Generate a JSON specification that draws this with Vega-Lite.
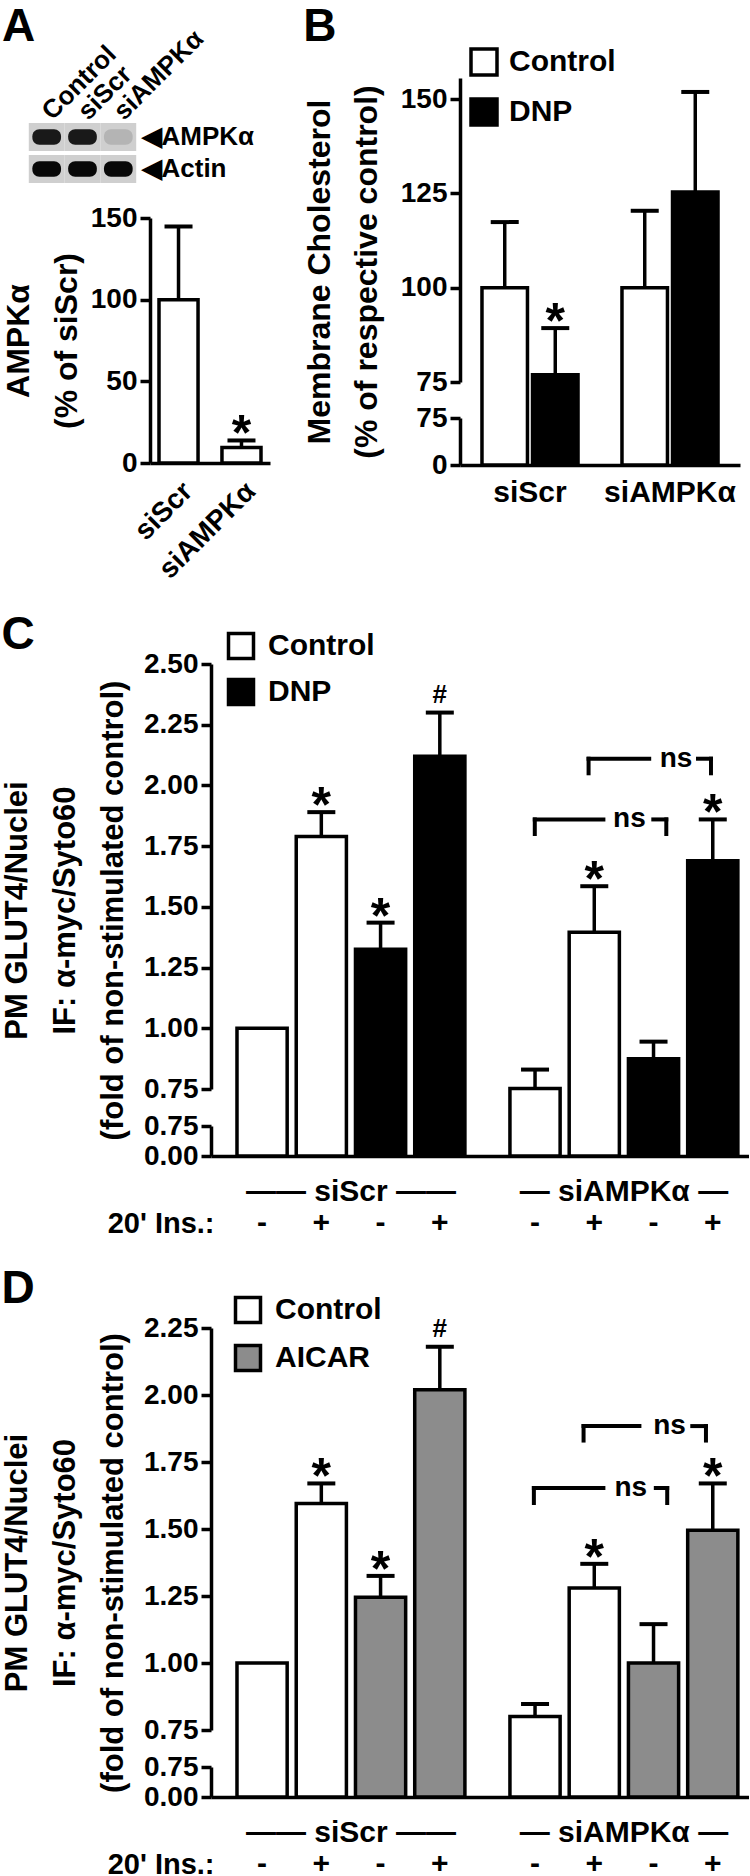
{
"$schema": "https://vega.github.io/schema/vega-lite/v6.json",
"background": "white",
"padding": {"top": 3, "left": 0, "right": 0, "bottom": 0},
"config": {
 "font": "Liberation Sans",
 "view": {"stroke": null},
 "axis": {"labelFont": "Liberation Sans", "labelFontWeight": "bold", "labelFontSize": 28, "labelColor": "black", "titleFont": "Liberation Sans", "titleFontWeight": "bold", "titleFontSize": 31, "titleColor": "black", "domainColor": "black", "domainWidth": 3.5, "tickColor": "black", "tickWidth": 3.5, "tickSize": 10, "grid": false, "labelOverlap": false, "labelFlush": false, "labelBound": false, "labelPadding": 3, "labelLimit": 0},
 "title": {"font": "Liberation Sans", "fontSize": 46, "fontWeight": "bold", "color": "black", "anchor": "start", "frame": "bounds"},
 "legend": {"labelFont": "Liberation Sans", "labelFontWeight": "bold", "labelFontSize": 29, "labelColor": "black"},
 "text": {"font": "Liberation Sans", "fontWeight": "bold", "color": "black"}
},
"datasets": {
 "c": [
  {"group": "siScr", "treatment": "Control", "insulin": "-", "condition": "Control, -", "mean": 1.0, "upper": null, "sig": ""},
  {"group": "siScr", "treatment": "Control", "insulin": "+", "condition": "Control, +", "mean": 1.79, "upper": 1.89, "sig": "*"},
  {"group": "siScr", "treatment": "DNP", "insulin": "-", "condition": "DNP, -", "mean": 1.325, "upper": 1.435, "sig": "*"},
  {"group": "siScr", "treatment": "DNP", "insulin": "+", "condition": "DNP, +", "mean": 2.12, "upper": 2.3, "sig": "#"},
  {"group": "siAMPKα", "treatment": "Control", "insulin": "-", "condition": "Control, -", "mean": 0.752, "upper": 0.83, "sig": ""},
  {"group": "siAMPKα", "treatment": "Control", "insulin": "+", "condition": "Control, +", "mean": 1.395, "upper": 1.585, "sig": "*"},
  {"group": "siAMPKα", "treatment": "DNP", "insulin": "-", "condition": "DNP, -", "mean": 0.875, "upper": 0.945, "sig": ""},
  {"group": "siAMPKα", "treatment": "DNP", "insulin": "+", "condition": "DNP, +", "mean": 1.69, "upper": 1.86, "sig": "*"}
 ],
 "d": [
  {"group": "siScr", "treatment": "Control", "insulin": "-", "condition": "Control, -", "mean": 1.0, "upper": null, "sig": ""},
  {"group": "siScr", "treatment": "Control", "insulin": "+", "condition": "Control, +", "mean": 1.595, "upper": 1.67, "sig": "*"},
  {"group": "siScr", "treatment": "AICAR", "insulin": "-", "condition": "AICAR, -", "mean": 1.245, "upper": 1.325, "sig": "*"},
  {"group": "siScr", "treatment": "AICAR", "insulin": "+", "condition": "AICAR, +", "mean": 2.02, "upper": 2.18, "sig": "#"},
  {"group": "siAMPKα", "treatment": "Control", "insulin": "-", "condition": "Control, -", "mean": 0.8, "upper": 0.847, "sig": ""},
  {"group": "siAMPKα", "treatment": "Control", "insulin": "+", "condition": "Control, +", "mean": 1.28, "upper": 1.37, "sig": "*"},
  {"group": "siAMPKα", "treatment": "AICAR", "insulin": "-", "condition": "AICAR, -", "mean": 1.0, "upper": 1.145, "sig": ""},
  {"group": "siAMPKα", "treatment": "AICAR", "insulin": "+", "condition": "AICAR, +", "mean": 1.495, "upper": 1.67, "sig": "*"}
 ],
 "cBr": [
  {"group": "siAMPKα", "pair": "lower", "level": 1.86, "tip": 1.8, "label": "ns"},
  {"group": "siAMPKα", "pair": "upper", "level": 2.11, "tip": 2.05, "label": "ns"}
 ],
 "dBr": [
  {"group": "siAMPKα", "pair": "lower", "level": 1.653, "tip": 1.597, "label": "ns"},
  {"group": "siAMPKα", "pair": "upper", "level": 1.884, "tip": 1.83, "label": "ns"}
 ]
},
"columns": 2,
"align": "none",
"spacing": {"row": 28, "column": 0},
"resolve": {"scale": {"x": "independent", "y": "independent", "xOffset": "independent", "fill": "independent"}, "legend": {"fill": "independent"}},
"concat": [
 {"width": 1, "height": 1, "data": {"values": []}, "mark": "point"},
 {"columns": 2, "align": "none", "spacing": {"row": 0, "column": 33},
  "resolve": {"scale": {"x": "independent", "y": "independent", "xOffset": "independent", "fill": "independent"}, "legend": {"fill": "independent"}},
  "concat": [
  {"width": 1, "height": 1, "data": {"values": []}, "mark": "point"},
  {"width": 1, "height": 1, "data": {"values": []}, "mark": "point"},
  {"columns": 2, "align": "none", "spacing": {"row": 21, "column": 0},
   "resolve": {"scale": {"x": "independent", "y": "independent", "fill": "independent"}, "legend": {"fill": "independent"}},
   "concat": [
   {"width": 1, "height": 1, "data": {"values": []}, "mark": "point"},
   {
    "title": {"text": "A", "dx": -25, "offset": -26},
    "width": 111, "height": 60,
    "data": {"values": [
     {"lane": "Control", "protein": "AMPKα", "intensity": 0.92},
     {"lane": "siScr", "protein": "AMPKα", "intensity": 0.92},
     {"lane": "siAMPKα", "protein": "AMPKα", "intensity": 0.12},
     {"lane": "Control", "protein": "Actin", "intensity": 1},
     {"lane": "siScr", "protein": "Actin", "intensity": 1},
     {"lane": "siAMPKα", "protein": "Actin", "intensity": 1}
    ]},
    "encoding": {
     "x": {"field": "lane", "type": "nominal", "sort": ["Control", "siScr", "siAMPKα"], "scale": {"paddingInner": 0, "paddingOuter": 0.05}, "axis": {"orient": "top", "title": null, "labelAngle": -45, "labelAlign": "left", "labelBaseline": "middle", "domain": false, "ticks": false, "labelPadding": 8, "labelFontSize": 26}},
     "y": {"field": "protein", "type": "nominal", "sort": ["AMPKα", "Actin"], "scale": {"paddingInner": 0.12, "paddingOuter": 0}, "axis": {"orient": "right", "title": null, "domain": false, "ticks": false, "labelPadding": 3, "labelFontSize": 26, "labelExpr": "'◀' + datum.label"}}
    },
    "layer": [
     {"mark": {"type": "rect", "fill": "#cfcfcf"}},
     {"mark": {"type": "rect", "width": {"band": 0.8}, "height": {"band": 0.55}, "cornerRadius": 7},
      "encoding": {"fill": {"field": "intensity", "type": "quantitative", "scale": {"domain": [0, 1], "range": ["#cfcfcf", "#080808"]}, "legend": null}}}
    ]
   },
   {"width": 1, "height": 1, "data": {"values": []}, "mark": "point"},
   {
    "width": 120, "height": 245,
    "data": {"values": [
     {"group": "siScr", "mean": 100, "upper": 144.8, "sig": ""},
     {"group": "siAMPKα", "mean": 9.5, "upper": 13.8, "sig": "*"}
    ]},
    "encoding": {
     "x": {"field": "group", "type": "nominal", "sort": ["siScr", "siAMPKα"], "scale": {"paddingInner": 0.38, "paddingOuter": 0.143}, "axis": {"title": null, "labelAngle": -45, "labelAlign": "right", "labelBaseline": "top", "ticks": false, "labelPadding": 14, "labelFontSize": 28}}
    },
    "layer": [
     {"mark": {"type": "bar", "fill": "white", "stroke": "black", "strokeWidth": 3.5},
      "encoding": {
       "y": {"field": "mean", "type": "quantitative", "scale": {"domain": [0, 150], "nice": false}, "axis": {"values": [0, 50, 100, 150], "title": ["AMPKα", "(% of siScr)"], "titleFontSize": 32, "titleLineHeight": 48, "titlePadding": 7}}
      }},
     {"mark": {"type": "rule", "strokeWidth": 3.5, "color": "black"},
      "encoding": {
       "y": {"field": "mean", "type": "quantitative", "scale": {"domain": [0, 150], "nice": false}, "axis": {"values": [0, 50, 100, 150], "title": ["AMPKα", "(% of siScr)"], "titleFontSize": 32, "titleLineHeight": 48, "titlePadding": 7}},
       "y2": {"field": "upper"}
      }},
     {"mark": {"type": "tick", "orient": "horizontal", "size": 28, "thickness": 4, "color": "black", "opacity": 1},
      "encoding": {
       "y": {"field": "upper", "type": "quantitative", "scale": {"domain": [0, 150], "nice": false}, "axis": {"values": [0, 50, 100, 150], "title": ["AMPKα", "(% of siScr)"], "titleFontSize": 32, "titleLineHeight": 48, "titlePadding": 7}}
      }},
     {"transform": [{"filter": "datum.sig == '*'"}],
      "mark": {"type": "text", "fontSize": 50, "baseline": "alphabetic", "dy": 10},
      "encoding": {
       "y": {"field": "upper", "type": "quantitative", "scale": {"domain": [0, 150], "nice": false}, "axis": {"values": [0, 50, 100, 150], "title": ["AMPKα", "(% of siScr)"], "titleFontSize": 32, "titleLineHeight": 48, "titlePadding": 7}},
       "text": {"field": "sig"}
      }}
    ]
   }
  ]},
  {
   "title": {"text": "B", "offset": -4},
   "width": 280, "height": 387,
   "data": {"values": [
    {"group": "siScr", "treatment": "Control", "mean": 100, "upper": 117.4, "sig": ""},
    {"group": "siScr", "treatment": "DNP", "mean": 76.9, "upper": 89.3, "sig": "*"},
    {"group": "siAMPKα", "treatment": "Control", "mean": 100, "upper": 120.4, "sig": ""},
    {"group": "siAMPKα", "treatment": "DNP", "mean": 125.4, "upper": 151.9, "sig": ""}
   ]},
   "encoding": {
    "x": {"field": "group", "type": "nominal", "sort": ["siScr", "siAMPKα"], "scale": {"paddingInner": 0.314, "paddingOuter": 0.157}, "axis": {"title": null, "labelAngle": 0, "ticks": false, "labelPadding": 12, "labelFontSize": 30}},
    "xOffset": {"field": "treatment", "type": "nominal", "sort": ["Control", "DNP"], "scale": {"paddingInner": 0.1, "paddingOuter": 0}}
   },
   "layer": [
    {"mark": {"type": "bar", "stroke": "black", "strokeWidth": 3.5},
     "encoding": {
      "y": {"field": "mean", "type": "quantitative", "scale": {"domain": [0, 75, 75.01, 155.6], "range": [387, 340, 304, 0], "nice": false, "zero": false}, "axis": {"values": [0, 75, 75.01, 100, 125, 150], "labelExpr": "format(datum.value, '.0f')", "domainDash": [47, 36, 1000], "title": ["Membrane Cholesterol", "(% of respective control)"], "titleFontSize": 32, "titleLineHeight": 47, "titlePadding": 17}},
      "fill": {"field": "treatment", "type": "nominal", "scale": {"domain": ["Control", "DNP"], "range": ["white", "black"]}, "legend": {"orient": "none", "legendX": 9, "legendY": -31, "title": null, "symbolType": "square", "symbolSize": 676, "symbolStrokeColor": "black", "symbolStrokeWidth": 3.5, "labelFontSize": 30, "rowPadding": 10, "labelOffset": 10, "padding": 0}}
     }},
    {"mark": {"type": "rule", "strokeWidth": 3.5, "color": "black"},
     "encoding": {
      "y": {"field": "mean", "type": "quantitative", "scale": {"domain": [0, 75, 75.01, 155.6], "range": [387, 340, 304, 0], "nice": false, "zero": false}, "axis": {"values": [0, 75, 75.01, 100, 125, 150], "labelExpr": "format(datum.value, '.0f')", "domainDash": [47, 36, 1000], "title": ["Membrane Cholesterol", "(% of respective control)"], "titleFontSize": 32, "titleLineHeight": 47, "titlePadding": 17}},
      "y2": {"field": "upper"}
     }},
    {"mark": {"type": "tick", "orient": "horizontal", "size": 28, "thickness": 4, "color": "black", "opacity": 1},
     "encoding": {
      "y": {"field": "upper", "type": "quantitative", "scale": {"domain": [0, 75, 75.01, 155.6], "range": [387, 340, 304, 0], "nice": false, "zero": false}, "axis": {"values": [0, 75, 75.01, 100, 125, 150], "labelExpr": "format(datum.value, '.0f')", "domainDash": [47, 36, 1000], "title": ["Membrane Cholesterol", "(% of respective control)"], "titleFontSize": 32, "titleLineHeight": 47, "titlePadding": 17}}
     }},
    {"transform": [{"filter": "datum.sig == '*'"}],
     "mark": {"type": "text", "fontSize": 50, "baseline": "alphabetic", "dy": 10},
     "encoding": {
      "y": {"field": "upper", "type": "quantitative", "scale": {"domain": [0, 75, 75.01, 155.6], "range": [387, 340, 304, 0], "nice": false, "zero": false}, "axis": {"values": [0, 75, 75.01, 100, 125, 150], "labelExpr": "format(datum.value, '.0f')", "domainDash": [47, 36, 1000], "title": ["Membrane Cholesterol", "(% of respective control)"], "titleFontSize": 32, "titleLineHeight": 47, "titlePadding": 17}},
      "text": {"field": "sig"}
     }}
   ]
  }
 ]},
 {"width": 1, "height": 1, "data": {"values": []}, "mark": "point"},
 {
  "title": {"text": "C", "offset": -28},
  "width": 538, "height": 492,
  "layer": [
   {"data": {"name": "c"},
    "mark": {"type": "bar", "stroke": "black", "strokeWidth": 3.5},
    "encoding": {
     "x": {"field": "group", "type": "nominal", "sort": ["siScr", "siAMPKα"], "scale": {"paddingInner": 0.165, "paddingOuter": 0.068, "align": 0.7}, "axis": {"title": "20' Ins.:", "titleX": 3, "titleY": 67, "titleAlign": "right", "titleBaseline": "middle", "titleAngle": 0, "titleFontSize": 29, "labelAngle": 0, "ticks": false, "labelPadding": 20, "labelFontSize": 30, "labelExpr": "datum.value == 'siScr' ? '—— siScr ——' : '— siAMPKα —'"}},
     "xOffset": {"field": "condition", "type": "nominal", "sort": ["Control, -", "Control, +", "DNP, -", "DNP, +"], "scale": {"paddingInner": 0.153, "paddingOuter": 0}},
     "y": {"field": "mean", "type": "quantitative", "scale": {"domain": [0, 0.75, 0.75001, 2.5], "range": [492, 462, 425, 0], "nice": false, "zero": false}, "axis": {"values": [0, 0.75, 0.75001, 1, 1.25, 1.5, 1.75, 2, 2.25, 2.5], "labelExpr": "format(datum.value, '.2f')", "domainDash": [30, 37, 1000], "title": ["PM GLUT4/Nuclei", "IF: α-myc/Syto60", "(fold of non-stimulated control)"], "titleLineHeight": 48, "titlePadding": 14}},
     "fill": {"field": "treatment", "type": "nominal", "scale": {"domain": ["Control", "DNP"], "range": ["white", "black"]}, "legend": {"orient": "none", "legendX": 15, "legendY": -33, "title": null, "symbolType": "square", "symbolSize": 625, "symbolStrokeColor": "black", "symbolStrokeWidth": 3.5, "labelFontSize": 30, "rowPadding": 6, "labelOffset": 12, "padding": 0}}
    }},
   {"data": {"name": "c"}, "transform": [{"filter": "datum.upper != null"}],
    "mark": {"type": "rule", "strokeWidth": 3.5, "color": "black"},
    "encoding": {
     "x": {"field": "group", "type": "nominal", "sort": ["siScr", "siAMPKα"], "scale": {"paddingInner": 0.165, "paddingOuter": 0.068, "align": 0.7}, "axis": {"title": "20' Ins.:", "titleX": 3, "titleY": 67, "titleAlign": "right", "titleBaseline": "middle", "titleAngle": 0, "titleFontSize": 29, "labelAngle": 0, "ticks": false, "labelPadding": 20, "labelFontSize": 30, "labelExpr": "datum.value == 'siScr' ? '—— siScr ——' : '— siAMPKα —'"}},
     "xOffset": {"field": "condition", "type": "nominal", "sort": ["Control, -", "Control, +", "DNP, -", "DNP, +"], "scale": {"paddingInner": 0.153, "paddingOuter": 0}},
     "y": {"field": "mean", "type": "quantitative", "scale": {"domain": [0, 0.75, 0.75001, 2.5], "range": [492, 462, 425, 0], "nice": false, "zero": false}, "axis": {"values": [0, 0.75, 0.75001, 1, 1.25, 1.5, 1.75, 2, 2.25, 2.5], "labelExpr": "format(datum.value, '.2f')", "domainDash": [30, 37, 1000], "title": ["PM GLUT4/Nuclei", "IF: α-myc/Syto60", "(fold of non-stimulated control)"], "titleLineHeight": 48, "titlePadding": 14}},
     "y2": {"field": "upper"}
    }},
   {"data": {"name": "c"}, "transform": [{"filter": "datum.upper != null"}],
    "mark": {"type": "tick", "orient": "horizontal", "size": 28, "thickness": 4, "color": "black", "opacity": 1},
    "encoding": {
     "x": {"field": "group", "type": "nominal", "sort": ["siScr", "siAMPKα"], "scale": {"paddingInner": 0.165, "paddingOuter": 0.068, "align": 0.7}, "axis": {"title": "20' Ins.:", "titleX": 3, "titleY": 67, "titleAlign": "right", "titleBaseline": "middle", "titleAngle": 0, "titleFontSize": 29, "labelAngle": 0, "ticks": false, "labelPadding": 20, "labelFontSize": 30, "labelExpr": "datum.value == 'siScr' ? '—— siScr ——' : '— siAMPKα —'"}},
     "xOffset": {"field": "condition", "type": "nominal", "sort": ["Control, -", "Control, +", "DNP, -", "DNP, +"], "scale": {"paddingInner": 0.153, "paddingOuter": 0}},
     "y": {"field": "upper", "type": "quantitative", "scale": {"domain": [0, 0.75, 0.75001, 2.5], "range": [492, 462, 425, 0], "nice": false, "zero": false}, "axis": {"values": [0, 0.75, 0.75001, 1, 1.25, 1.5, 1.75, 2, 2.25, 2.5], "labelExpr": "format(datum.value, '.2f')", "domainDash": [30, 37, 1000], "title": ["PM GLUT4/Nuclei", "IF: α-myc/Syto60", "(fold of non-stimulated control)"], "titleLineHeight": 48, "titlePadding": 14}}
    }},
   {"data": {"name": "c"}, "transform": [{"filter": "datum.sig == '*'"}],
    "mark": {"type": "text", "fontSize": 50, "baseline": "alphabetic", "dy": 10},
    "encoding": {
     "x": {"field": "group", "type": "nominal", "sort": ["siScr", "siAMPKα"], "scale": {"paddingInner": 0.165, "paddingOuter": 0.068, "align": 0.7}, "axis": {"title": "20' Ins.:", "titleX": 3, "titleY": 67, "titleAlign": "right", "titleBaseline": "middle", "titleAngle": 0, "titleFontSize": 29, "labelAngle": 0, "ticks": false, "labelPadding": 20, "labelFontSize": 30, "labelExpr": "datum.value == 'siScr' ? '—— siScr ——' : '— siAMPKα —'"}},
     "xOffset": {"field": "condition", "type": "nominal", "sort": ["Control, -", "Control, +", "DNP, -", "DNP, +"], "scale": {"paddingInner": 0.153, "paddingOuter": 0}},
     "y": {"field": "upper", "type": "quantitative", "scale": {"domain": [0, 0.75, 0.75001, 2.5], "range": [492, 462, 425, 0], "nice": false, "zero": false}, "axis": {"values": [0, 0.75, 0.75001, 1, 1.25, 1.5, 1.75, 2, 2.25, 2.5], "labelExpr": "format(datum.value, '.2f')", "domainDash": [30, 37, 1000], "title": ["PM GLUT4/Nuclei", "IF: α-myc/Syto60", "(fold of non-stimulated control)"], "titleLineHeight": 48, "titlePadding": 14}},
     "text": {"field": "sig"}
    }},
   {"data": {"name": "c"}, "transform": [{"filter": "datum.sig == '#'"}],
    "mark": {"type": "text", "fontSize": 26, "baseline": "alphabetic", "dy": -10},
    "encoding": {
     "x": {"field": "group", "type": "nominal", "sort": ["siScr", "siAMPKα"], "scale": {"paddingInner": 0.165, "paddingOuter": 0.068, "align": 0.7}, "axis": {"title": "20' Ins.:", "titleX": 3, "titleY": 67, "titleAlign": "right", "titleBaseline": "middle", "titleAngle": 0, "titleFontSize": 29, "labelAngle": 0, "ticks": false, "labelPadding": 20, "labelFontSize": 30, "labelExpr": "datum.value == 'siScr' ? '—— siScr ——' : '— siAMPKα —'"}},
     "xOffset": {"field": "condition", "type": "nominal", "sort": ["Control, -", "Control, +", "DNP, -", "DNP, +"], "scale": {"paddingInner": 0.153, "paddingOuter": 0}},
     "y": {"field": "upper", "type": "quantitative", "scale": {"domain": [0, 0.75, 0.75001, 2.5], "range": [492, 462, 425, 0], "nice": false, "zero": false}, "axis": {"values": [0, 0.75, 0.75001, 1, 1.25, 1.5, 1.75, 2, 2.25, 2.5], "labelExpr": "format(datum.value, '.2f')", "domainDash": [30, 37, 1000], "title": ["PM GLUT4/Nuclei", "IF: α-myc/Syto60", "(fold of non-stimulated control)"], "titleLineHeight": 48, "titlePadding": 14}},
     "text": {"field": "sig"}
    }},
   {"data": {"name": "c"},
    "mark": {"type": "text", "fontSize": 30, "baseline": "middle", "dy": 67},
    "encoding": {
     "x": {"field": "group", "type": "nominal", "sort": ["siScr", "siAMPKα"], "scale": {"paddingInner": 0.165, "paddingOuter": 0.068, "align": 0.7}, "axis": {"title": "20' Ins.:", "titleX": 3, "titleY": 67, "titleAlign": "right", "titleBaseline": "middle", "titleAngle": 0, "titleFontSize": 29, "labelAngle": 0, "ticks": false, "labelPadding": 20, "labelFontSize": 30, "labelExpr": "datum.value == 'siScr' ? '—— siScr ——' : '— siAMPKα —'"}},
     "xOffset": {"field": "condition", "type": "nominal", "sort": ["Control, -", "Control, +", "DNP, -", "DNP, +"], "scale": {"paddingInner": 0.153, "paddingOuter": 0}},
     "y": {"datum": 0, "type": "quantitative", "scale": {"domain": [0, 0.75, 0.75001, 2.5], "range": [492, 462, 425, 0], "nice": false, "zero": false}, "axis": {"values": [0, 0.75, 0.75001, 1, 1.25, 1.5, 1.75, 2, 2.25, 2.5], "labelExpr": "format(datum.value, '.2f')", "domainDash": [30, 37, 1000], "title": ["PM GLUT4/Nuclei", "IF: α-myc/Syto60", "(fold of non-stimulated control)"], "titleLineHeight": 48, "titlePadding": 14}},
     "text": {"field": "insulin"}
    }},
   {"data": {"name": "cBr"}, "transform": [{"filter": "datum.pair == 'lower'"}],
    "mark": {"type": "rule", "strokeWidth": 4, "strokeCap": "square", "color": "black"},
    "encoding": {
     "x": {"field": "group", "type": "nominal", "sort": ["siScr", "siAMPKα"], "bandPosition": 0.109, "scale": {"paddingInner": 0.165, "paddingOuter": 0.068, "align": 0.7}, "axis": {"title": "20' Ins.:", "titleX": 3, "titleY": 67, "titleAlign": "right", "titleBaseline": "middle", "titleAngle": 0, "titleFontSize": 29, "labelAngle": 0, "ticks": false, "labelPadding": 20, "labelFontSize": 30, "labelExpr": "datum.value == 'siScr' ? '—— siScr ——' : '— siAMPKα —'"}},
     "x2": {"field": "group", "bandPosition": 0.41},
     "y": {"field": "level", "type": "quantitative", "scale": {"domain": [0, 0.75, 0.75001, 2.5], "range": [492, 462, 425, 0], "nice": false, "zero": false}, "axis": {"values": [0, 0.75, 0.75001, 1, 1.25, 1.5, 1.75, 2, 2.25, 2.5], "labelExpr": "format(datum.value, '.2f')", "domainDash": [30, 37, 1000], "title": ["PM GLUT4/Nuclei", "IF: α-myc/Syto60", "(fold of non-stimulated control)"], "titleLineHeight": 48, "titlePadding": 14}}
    }},
   {"data": {"name": "cBr"}, "transform": [{"filter": "datum.pair == 'lower'"}],
    "mark": {"type": "rule", "strokeWidth": 4, "strokeCap": "square", "color": "black"},
    "encoding": {
     "x": {"field": "group", "type": "nominal", "sort": ["siScr", "siAMPKα"], "bandPosition": 0.629, "scale": {"paddingInner": 0.165, "paddingOuter": 0.068, "align": 0.7}, "axis": {"title": "20' Ins.:", "titleX": 3, "titleY": 67, "titleAlign": "right", "titleBaseline": "middle", "titleAngle": 0, "titleFontSize": 29, "labelAngle": 0, "ticks": false, "labelPadding": 20, "labelFontSize": 30, "labelExpr": "datum.value == 'siScr' ? '—— siScr ——' : '— siAMPKα —'"}},
     "x2": {"field": "group", "bandPosition": 0.686},
     "y": {"field": "level", "type": "quantitative", "scale": {"domain": [0, 0.75, 0.75001, 2.5], "range": [492, 462, 425, 0], "nice": false, "zero": false}, "axis": {"values": [0, 0.75, 0.75001, 1, 1.25, 1.5, 1.75, 2, 2.25, 2.5], "labelExpr": "format(datum.value, '.2f')", "domainDash": [30, 37, 1000], "title": ["PM GLUT4/Nuclei", "IF: α-myc/Syto60", "(fold of non-stimulated control)"], "titleLineHeight": 48, "titlePadding": 14}}
    }},
   {"data": {"name": "cBr"}, "transform": [{"filter": "datum.pair == 'lower'"}],
    "mark": {"type": "rule", "strokeWidth": 4, "strokeCap": "square", "color": "black"},
    "encoding": {
     "x": {"field": "group", "type": "nominal", "sort": ["siScr", "siAMPKα"], "bandPosition": 0.109, "scale": {"paddingInner": 0.165, "paddingOuter": 0.068, "align": 0.7}, "axis": {"title": "20' Ins.:", "titleX": 3, "titleY": 67, "titleAlign": "right", "titleBaseline": "middle", "titleAngle": 0, "titleFontSize": 29, "labelAngle": 0, "ticks": false, "labelPadding": 20, "labelFontSize": 30, "labelExpr": "datum.value == 'siScr' ? '—— siScr ——' : '— siAMPKα —'"}},
     "y": {"field": "level", "type": "quantitative", "scale": {"domain": [0, 0.75, 0.75001, 2.5], "range": [492, 462, 425, 0], "nice": false, "zero": false}, "axis": {"values": [0, 0.75, 0.75001, 1, 1.25, 1.5, 1.75, 2, 2.25, 2.5], "labelExpr": "format(datum.value, '.2f')", "domainDash": [30, 37, 1000], "title": ["PM GLUT4/Nuclei", "IF: α-myc/Syto60", "(fold of non-stimulated control)"], "titleLineHeight": 48, "titlePadding": 14}},
     "y2": {"field": "tip"}
    }},
   {"data": {"name": "cBr"}, "transform": [{"filter": "datum.pair == 'lower'"}],
    "mark": {"type": "rule", "strokeWidth": 4, "strokeCap": "square", "color": "black"},
    "encoding": {
     "x": {"field": "group", "type": "nominal", "sort": ["siScr", "siAMPKα"], "bandPosition": 0.686, "scale": {"paddingInner": 0.165, "paddingOuter": 0.068, "align": 0.7}, "axis": {"title": "20' Ins.:", "titleX": 3, "titleY": 67, "titleAlign": "right", "titleBaseline": "middle", "titleAngle": 0, "titleFontSize": 29, "labelAngle": 0, "ticks": false, "labelPadding": 20, "labelFontSize": 30, "labelExpr": "datum.value == 'siScr' ? '—— siScr ——' : '— siAMPKα —'"}},
     "y": {"field": "level", "type": "quantitative", "scale": {"domain": [0, 0.75, 0.75001, 2.5], "range": [492, 462, 425, 0], "nice": false, "zero": false}, "axis": {"values": [0, 0.75, 0.75001, 1, 1.25, 1.5, 1.75, 2, 2.25, 2.5], "labelExpr": "format(datum.value, '.2f')", "domainDash": [30, 37, 1000], "title": ["PM GLUT4/Nuclei", "IF: α-myc/Syto60", "(fold of non-stimulated control)"], "titleLineHeight": 48, "titlePadding": 14}},
     "y2": {"field": "tip"}
    }},
   {"data": {"name": "cBr"}, "transform": [{"filter": "datum.pair == 'lower'"}],
    "mark": {"type": "text", "fontSize": 28, "baseline": "middle"},
    "encoding": {
     "x": {"field": "group", "type": "nominal", "sort": ["siScr", "siAMPKα"], "bandPosition": 0.524, "scale": {"paddingInner": 0.165, "paddingOuter": 0.068, "align": 0.7}, "axis": {"title": "20' Ins.:", "titleX": 3, "titleY": 67, "titleAlign": "right", "titleBaseline": "middle", "titleAngle": 0, "titleFontSize": 29, "labelAngle": 0, "ticks": false, "labelPadding": 20, "labelFontSize": 30, "labelExpr": "datum.value == 'siScr' ? '—— siScr ——' : '— siAMPKα —'"}},
     "y": {"field": "level", "type": "quantitative", "scale": {"domain": [0, 0.75, 0.75001, 2.5], "range": [492, 462, 425, 0], "nice": false, "zero": false}, "axis": {"values": [0, 0.75, 0.75001, 1, 1.25, 1.5, 1.75, 2, 2.25, 2.5], "labelExpr": "format(datum.value, '.2f')", "domainDash": [30, 37, 1000], "title": ["PM GLUT4/Nuclei", "IF: α-myc/Syto60", "(fold of non-stimulated control)"], "titleLineHeight": 48, "titlePadding": 14}},
     "text": {"field": "label"}
    }},
   {"data": {"name": "cBr"}, "transform": [{"filter": "datum.pair == 'upper'"}],
    "mark": {"type": "rule", "strokeWidth": 4, "strokeCap": "square", "color": "black"},
    "encoding": {
     "x": {"field": "group", "type": "nominal", "sort": ["siScr", "siAMPKα"], "bandPosition": 0.345, "scale": {"paddingInner": 0.165, "paddingOuter": 0.068, "align": 0.7}, "axis": {"title": "20' Ins.:", "titleX": 3, "titleY": 67, "titleAlign": "right", "titleBaseline": "middle", "titleAngle": 0, "titleFontSize": 29, "labelAngle": 0, "ticks": false, "labelPadding": 20, "labelFontSize": 30, "labelExpr": "datum.value == 'siScr' ? '—— siScr ——' : '— siAMPKα —'"}},
     "x2": {"field": "group", "bandPosition": 0.611},
     "y": {"field": "level", "type": "quantitative", "scale": {"domain": [0, 0.75, 0.75001, 2.5], "range": [492, 462, 425, 0], "nice": false, "zero": false}, "axis": {"values": [0, 0.75, 0.75001, 1, 1.25, 1.5, 1.75, 2, 2.25, 2.5], "labelExpr": "format(datum.value, '.2f')", "domainDash": [30, 37, 1000], "title": ["PM GLUT4/Nuclei", "IF: α-myc/Syto60", "(fold of non-stimulated control)"], "titleLineHeight": 48, "titlePadding": 14}}
    }},
   {"data": {"name": "cBr"}, "transform": [{"filter": "datum.pair == 'upper'"}],
    "mark": {"type": "rule", "strokeWidth": 4, "strokeCap": "square", "color": "black"},
    "encoding": {
     "x": {"field": "group", "type": "nominal", "sort": ["siScr", "siAMPKα"], "bandPosition": 0.825, "scale": {"paddingInner": 0.165, "paddingOuter": 0.068, "align": 0.7}, "axis": {"title": "20' Ins.:", "titleX": 3, "titleY": 67, "titleAlign": "right", "titleBaseline": "middle", "titleAngle": 0, "titleFontSize": 29, "labelAngle": 0, "ticks": false, "labelPadding": 20, "labelFontSize": 30, "labelExpr": "datum.value == 'siScr' ? '—— siScr ——' : '— siAMPKα —'"}},
     "x2": {"field": "group", "bandPosition": 0.882},
     "y": {"field": "level", "type": "quantitative", "scale": {"domain": [0, 0.75, 0.75001, 2.5], "range": [492, 462, 425, 0], "nice": false, "zero": false}, "axis": {"values": [0, 0.75, 0.75001, 1, 1.25, 1.5, 1.75, 2, 2.25, 2.5], "labelExpr": "format(datum.value, '.2f')", "domainDash": [30, 37, 1000], "title": ["PM GLUT4/Nuclei", "IF: α-myc/Syto60", "(fold of non-stimulated control)"], "titleLineHeight": 48, "titlePadding": 14}}
    }},
   {"data": {"name": "cBr"}, "transform": [{"filter": "datum.pair == 'upper'"}],
    "mark": {"type": "rule", "strokeWidth": 4, "strokeCap": "square", "color": "black"},
    "encoding": {
     "x": {"field": "group", "type": "nominal", "sort": ["siScr", "siAMPKα"], "bandPosition": 0.345, "scale": {"paddingInner": 0.165, "paddingOuter": 0.068, "align": 0.7}, "axis": {"title": "20' Ins.:", "titleX": 3, "titleY": 67, "titleAlign": "right", "titleBaseline": "middle", "titleAngle": 0, "titleFontSize": 29, "labelAngle": 0, "ticks": false, "labelPadding": 20, "labelFontSize": 30, "labelExpr": "datum.value == 'siScr' ? '—— siScr ——' : '— siAMPKα —'"}},
     "y": {"field": "level", "type": "quantitative", "scale": {"domain": [0, 0.75, 0.75001, 2.5], "range": [492, 462, 425, 0], "nice": false, "zero": false}, "axis": {"values": [0, 0.75, 0.75001, 1, 1.25, 1.5, 1.75, 2, 2.25, 2.5], "labelExpr": "format(datum.value, '.2f')", "domainDash": [30, 37, 1000], "title": ["PM GLUT4/Nuclei", "IF: α-myc/Syto60", "(fold of non-stimulated control)"], "titleLineHeight": 48, "titlePadding": 14}},
     "y2": {"field": "tip"}
    }},
   {"data": {"name": "cBr"}, "transform": [{"filter": "datum.pair == 'upper'"}],
    "mark": {"type": "rule", "strokeWidth": 4, "strokeCap": "square", "color": "black"},
    "encoding": {
     "x": {"field": "group", "type": "nominal", "sort": ["siScr", "siAMPKα"], "bandPosition": 0.882, "scale": {"paddingInner": 0.165, "paddingOuter": 0.068, "align": 0.7}, "axis": {"title": "20' Ins.:", "titleX": 3, "titleY": 67, "titleAlign": "right", "titleBaseline": "middle", "titleAngle": 0, "titleFontSize": 29, "labelAngle": 0, "ticks": false, "labelPadding": 20, "labelFontSize": 30, "labelExpr": "datum.value == 'siScr' ? '—— siScr ——' : '— siAMPKα —'"}},
     "y": {"field": "level", "type": "quantitative", "scale": {"domain": [0, 0.75, 0.75001, 2.5], "range": [492, 462, 425, 0], "nice": false, "zero": false}, "axis": {"values": [0, 0.75, 0.75001, 1, 1.25, 1.5, 1.75, 2, 2.25, 2.5], "labelExpr": "format(datum.value, '.2f')", "domainDash": [30, 37, 1000], "title": ["PM GLUT4/Nuclei", "IF: α-myc/Syto60", "(fold of non-stimulated control)"], "titleLineHeight": 48, "titlePadding": 14}},
     "y2": {"field": "tip"}
    }},
   {"data": {"name": "cBr"}, "transform": [{"filter": "datum.pair == 'upper'"}],
    "mark": {"type": "text", "fontSize": 28, "baseline": "middle"},
    "encoding": {
     "x": {"field": "group", "type": "nominal", "sort": ["siScr", "siAMPKα"], "bandPosition": 0.729, "scale": {"paddingInner": 0.165, "paddingOuter": 0.068, "align": 0.7}, "axis": {"title": "20' Ins.:", "titleX": 3, "titleY": 67, "titleAlign": "right", "titleBaseline": "middle", "titleAngle": 0, "titleFontSize": 29, "labelAngle": 0, "ticks": false, "labelPadding": 20, "labelFontSize": 30, "labelExpr": "datum.value == 'siScr' ? '—— siScr ——' : '— siAMPKα —'"}},
     "y": {"field": "level", "type": "quantitative", "scale": {"domain": [0, 0.75, 0.75001, 2.5], "range": [492, 462, 425, 0], "nice": false, "zero": false}, "axis": {"values": [0, 0.75, 0.75001, 1, 1.25, 1.5, 1.75, 2, 2.25, 2.5], "labelExpr": "format(datum.value, '.2f')", "domainDash": [30, 37, 1000], "title": ["PM GLUT4/Nuclei", "IF: α-myc/Syto60", "(fold of non-stimulated control)"], "titleLineHeight": 48, "titlePadding": 14}},
     "text": {"field": "label"}
    }}
  ]
 },
 {"width": 1, "height": 1, "data": {"values": []}, "mark": "point"},
 {
  "title": {"text": "D", "offset": -18},
  "width": 538, "height": 469,
  "layer": [
   {"data": {"name": "d"},
    "mark": {"type": "bar", "stroke": "black", "strokeWidth": 3.5},
    "encoding": {
     "x": {"field": "group", "type": "nominal", "sort": ["siScr", "siAMPKα"], "scale": {"paddingInner": 0.165, "paddingOuter": 0.068, "align": 0.7}, "axis": {"title": "20' Ins.:", "titleX": 3, "titleY": 67, "titleAlign": "right", "titleBaseline": "middle", "titleAngle": 0, "titleFontSize": 29, "labelAngle": 0, "ticks": false, "labelPadding": 20, "labelFontSize": 30, "labelExpr": "datum.value == 'siScr' ? '—— siScr ——' : '— siAMPKα —'"}},
     "xOffset": {"field": "condition", "type": "nominal", "sort": ["Control, -", "Control, +", "AICAR, -", "AICAR, +"], "scale": {"paddingInner": 0.153, "paddingOuter": 0}},
     "y": {"field": "mean", "type": "quantitative", "scale": {"domain": [0, 0.75, 0.75001, 2.25], "range": [469, 439, 402, 0], "nice": false, "zero": false}, "axis": {"values": [0, 0.75, 0.75001, 1, 1.25, 1.5, 1.75, 2, 2.25], "labelExpr": "format(datum.value, '.2f')", "domainDash": [30, 37, 1000], "title": ["PM GLUT4/Nuclei", "IF: α-myc/Syto60", "(fold of non-stimulated control)"], "titleLineHeight": 48, "titlePadding": 14}},
     "fill": {"field": "treatment", "type": "nominal", "scale": {"domain": ["Control", "AICAR"], "range": ["white", "#8c8c8c"]}, "legend": {"orient": "none", "legendX": 22, "legendY": -33, "title": null, "symbolType": "square", "symbolSize": 625, "symbolStrokeColor": "black", "symbolStrokeWidth": 3.5, "labelFontSize": 30, "rowPadding": 8, "labelOffset": 12, "padding": 0}}
    }},
   {"data": {"name": "d"}, "transform": [{"filter": "datum.upper != null"}],
    "mark": {"type": "rule", "strokeWidth": 3.5, "color": "black"},
    "encoding": {
     "x": {"field": "group", "type": "nominal", "sort": ["siScr", "siAMPKα"], "scale": {"paddingInner": 0.165, "paddingOuter": 0.068, "align": 0.7}, "axis": {"title": "20' Ins.:", "titleX": 3, "titleY": 67, "titleAlign": "right", "titleBaseline": "middle", "titleAngle": 0, "titleFontSize": 29, "labelAngle": 0, "ticks": false, "labelPadding": 20, "labelFontSize": 30, "labelExpr": "datum.value == 'siScr' ? '—— siScr ——' : '— siAMPKα —'"}},
     "xOffset": {"field": "condition", "type": "nominal", "sort": ["Control, -", "Control, +", "AICAR, -", "AICAR, +"], "scale": {"paddingInner": 0.153, "paddingOuter": 0}},
     "y": {"field": "mean", "type": "quantitative", "scale": {"domain": [0, 0.75, 0.75001, 2.25], "range": [469, 439, 402, 0], "nice": false, "zero": false}, "axis": {"values": [0, 0.75, 0.75001, 1, 1.25, 1.5, 1.75, 2, 2.25], "labelExpr": "format(datum.value, '.2f')", "domainDash": [30, 37, 1000], "title": ["PM GLUT4/Nuclei", "IF: α-myc/Syto60", "(fold of non-stimulated control)"], "titleLineHeight": 48, "titlePadding": 14}},
     "y2": {"field": "upper"}
    }},
   {"data": {"name": "d"}, "transform": [{"filter": "datum.upper != null"}],
    "mark": {"type": "tick", "orient": "horizontal", "size": 28, "thickness": 4, "color": "black", "opacity": 1},
    "encoding": {
     "x": {"field": "group", "type": "nominal", "sort": ["siScr", "siAMPKα"], "scale": {"paddingInner": 0.165, "paddingOuter": 0.068, "align": 0.7}, "axis": {"title": "20' Ins.:", "titleX": 3, "titleY": 67, "titleAlign": "right", "titleBaseline": "middle", "titleAngle": 0, "titleFontSize": 29, "labelAngle": 0, "ticks": false, "labelPadding": 20, "labelFontSize": 30, "labelExpr": "datum.value == 'siScr' ? '—— siScr ——' : '— siAMPKα —'"}},
     "xOffset": {"field": "condition", "type": "nominal", "sort": ["Control, -", "Control, +", "AICAR, -", "AICAR, +"], "scale": {"paddingInner": 0.153, "paddingOuter": 0}},
     "y": {"field": "upper", "type": "quantitative", "scale": {"domain": [0, 0.75, 0.75001, 2.25], "range": [469, 439, 402, 0], "nice": false, "zero": false}, "axis": {"values": [0, 0.75, 0.75001, 1, 1.25, 1.5, 1.75, 2, 2.25], "labelExpr": "format(datum.value, '.2f')", "domainDash": [30, 37, 1000], "title": ["PM GLUT4/Nuclei", "IF: α-myc/Syto60", "(fold of non-stimulated control)"], "titleLineHeight": 48, "titlePadding": 14}}
    }},
   {"data": {"name": "d"}, "transform": [{"filter": "datum.sig == '*'"}],
    "mark": {"type": "text", "fontSize": 50, "baseline": "alphabetic", "dy": 10},
    "encoding": {
     "x": {"field": "group", "type": "nominal", "sort": ["siScr", "siAMPKα"], "scale": {"paddingInner": 0.165, "paddingOuter": 0.068, "align": 0.7}, "axis": {"title": "20' Ins.:", "titleX": 3, "titleY": 67, "titleAlign": "right", "titleBaseline": "middle", "titleAngle": 0, "titleFontSize": 29, "labelAngle": 0, "ticks": false, "labelPadding": 20, "labelFontSize": 30, "labelExpr": "datum.value == 'siScr' ? '—— siScr ——' : '— siAMPKα —'"}},
     "xOffset": {"field": "condition", "type": "nominal", "sort": ["Control, -", "Control, +", "AICAR, -", "AICAR, +"], "scale": {"paddingInner": 0.153, "paddingOuter": 0}},
     "y": {"field": "upper", "type": "quantitative", "scale": {"domain": [0, 0.75, 0.75001, 2.25], "range": [469, 439, 402, 0], "nice": false, "zero": false}, "axis": {"values": [0, 0.75, 0.75001, 1, 1.25, 1.5, 1.75, 2, 2.25], "labelExpr": "format(datum.value, '.2f')", "domainDash": [30, 37, 1000], "title": ["PM GLUT4/Nuclei", "IF: α-myc/Syto60", "(fold of non-stimulated control)"], "titleLineHeight": 48, "titlePadding": 14}},
     "text": {"field": "sig"}
    }},
   {"data": {"name": "d"}, "transform": [{"filter": "datum.sig == '#'"}],
    "mark": {"type": "text", "fontSize": 26, "baseline": "alphabetic", "dy": -10},
    "encoding": {
     "x": {"field": "group", "type": "nominal", "sort": ["siScr", "siAMPKα"], "scale": {"paddingInner": 0.165, "paddingOuter": 0.068, "align": 0.7}, "axis": {"title": "20' Ins.:", "titleX": 3, "titleY": 67, "titleAlign": "right", "titleBaseline": "middle", "titleAngle": 0, "titleFontSize": 29, "labelAngle": 0, "ticks": false, "labelPadding": 20, "labelFontSize": 30, "labelExpr": "datum.value == 'siScr' ? '—— siScr ——' : '— siAMPKα —'"}},
     "xOffset": {"field": "condition", "type": "nominal", "sort": ["Control, -", "Control, +", "AICAR, -", "AICAR, +"], "scale": {"paddingInner": 0.153, "paddingOuter": 0}},
     "y": {"field": "upper", "type": "quantitative", "scale": {"domain": [0, 0.75, 0.75001, 2.25], "range": [469, 439, 402, 0], "nice": false, "zero": false}, "axis": {"values": [0, 0.75, 0.75001, 1, 1.25, 1.5, 1.75, 2, 2.25], "labelExpr": "format(datum.value, '.2f')", "domainDash": [30, 37, 1000], "title": ["PM GLUT4/Nuclei", "IF: α-myc/Syto60", "(fold of non-stimulated control)"], "titleLineHeight": 48, "titlePadding": 14}},
     "text": {"field": "sig"}
    }},
   {"data": {"name": "d"},
    "mark": {"type": "text", "fontSize": 30, "baseline": "middle", "dy": 67},
    "encoding": {
     "x": {"field": "group", "type": "nominal", "sort": ["siScr", "siAMPKα"], "scale": {"paddingInner": 0.165, "paddingOuter": 0.068, "align": 0.7}, "axis": {"title": "20' Ins.:", "titleX": 3, "titleY": 67, "titleAlign": "right", "titleBaseline": "middle", "titleAngle": 0, "titleFontSize": 29, "labelAngle": 0, "ticks": false, "labelPadding": 20, "labelFontSize": 30, "labelExpr": "datum.value == 'siScr' ? '—— siScr ——' : '— siAMPKα —'"}},
     "xOffset": {"field": "condition", "type": "nominal", "sort": ["Control, -", "Control, +", "AICAR, -", "AICAR, +"], "scale": {"paddingInner": 0.153, "paddingOuter": 0}},
     "y": {"datum": 0, "type": "quantitative", "scale": {"domain": [0, 0.75, 0.75001, 2.25], "range": [469, 439, 402, 0], "nice": false, "zero": false}, "axis": {"values": [0, 0.75, 0.75001, 1, 1.25, 1.5, 1.75, 2, 2.25], "labelExpr": "format(datum.value, '.2f')", "domainDash": [30, 37, 1000], "title": ["PM GLUT4/Nuclei", "IF: α-myc/Syto60", "(fold of non-stimulated control)"], "titleLineHeight": 48, "titlePadding": 14}},
     "text": {"field": "insulin"}
    }},
   {"data": {"name": "dBr"}, "transform": [{"filter": "datum.pair == 'lower'"}],
    "mark": {"type": "rule", "strokeWidth": 4, "strokeCap": "square", "color": "black"},
    "encoding": {
     "x": {"field": "group", "type": "nominal", "sort": ["siScr", "siAMPKα"], "bandPosition": 0.105, "scale": {"paddingInner": 0.165, "paddingOuter": 0.068, "align": 0.7}, "axis": {"title": "20' Ins.:", "titleX": 3, "titleY": 67, "titleAlign": "right", "titleBaseline": "middle", "titleAngle": 0, "titleFontSize": 29, "labelAngle": 0, "ticks": false, "labelPadding": 20, "labelFontSize": 30, "labelExpr": "datum.value == 'siScr' ? '—— siScr ——' : '— siAMPKα —'"}},
     "x2": {"field": "group", "bandPosition": 0.41},
     "y": {"field": "level", "type": "quantitative", "scale": {"domain": [0, 0.75, 0.75001, 2.25], "range": [469, 439, 402, 0], "nice": false, "zero": false}, "axis": {"values": [0, 0.75, 0.75001, 1, 1.25, 1.5, 1.75, 2, 2.25], "labelExpr": "format(datum.value, '.2f')", "domainDash": [30, 37, 1000], "title": ["PM GLUT4/Nuclei", "IF: α-myc/Syto60", "(fold of non-stimulated control)"], "titleLineHeight": 48, "titlePadding": 14}}
    }},
   {"data": {"name": "dBr"}, "transform": [{"filter": "datum.pair == 'lower'"}],
    "mark": {"type": "rule", "strokeWidth": 4, "strokeCap": "square", "color": "black"},
    "encoding": {
     "x": {"field": "group", "type": "nominal", "sort": ["siScr", "siAMPKα"], "bandPosition": 0.64, "scale": {"paddingInner": 0.165, "paddingOuter": 0.068, "align": 0.7}, "axis": {"title": "20' Ins.:", "titleX": 3, "titleY": 67, "titleAlign": "right", "titleBaseline": "middle", "titleAngle": 0, "titleFontSize": 29, "labelAngle": 0, "ticks": false, "labelPadding": 20, "labelFontSize": 30, "labelExpr": "datum.value == 'siScr' ? '—— siScr ——' : '— siAMPKα —'"}},
     "x2": {"field": "group", "bandPosition": 0.69},
     "y": {"field": "level", "type": "quantitative", "scale": {"domain": [0, 0.75, 0.75001, 2.25], "range": [469, 439, 402, 0], "nice": false, "zero": false}, "axis": {"values": [0, 0.75, 0.75001, 1, 1.25, 1.5, 1.75, 2, 2.25], "labelExpr": "format(datum.value, '.2f')", "domainDash": [30, 37, 1000], "title": ["PM GLUT4/Nuclei", "IF: α-myc/Syto60", "(fold of non-stimulated control)"], "titleLineHeight": 48, "titlePadding": 14}}
    }},
   {"data": {"name": "dBr"}, "transform": [{"filter": "datum.pair == 'lower'"}],
    "mark": {"type": "rule", "strokeWidth": 4, "strokeCap": "square", "color": "black"},
    "encoding": {
     "x": {"field": "group", "type": "nominal", "sort": ["siScr", "siAMPKα"], "bandPosition": 0.105, "scale": {"paddingInner": 0.165, "paddingOuter": 0.068, "align": 0.7}, "axis": {"title": "20' Ins.:", "titleX": 3, "titleY": 67, "titleAlign": "right", "titleBaseline": "middle", "titleAngle": 0, "titleFontSize": 29, "labelAngle": 0, "ticks": false, "labelPadding": 20, "labelFontSize": 30, "labelExpr": "datum.value == 'siScr' ? '—— siScr ——' : '— siAMPKα —'"}},
     "y": {"field": "level", "type": "quantitative", "scale": {"domain": [0, 0.75, 0.75001, 2.25], "range": [469, 439, 402, 0], "nice": false, "zero": false}, "axis": {"values": [0, 0.75, 0.75001, 1, 1.25, 1.5, 1.75, 2, 2.25], "labelExpr": "format(datum.value, '.2f')", "domainDash": [30, 37, 1000], "title": ["PM GLUT4/Nuclei", "IF: α-myc/Syto60", "(fold of non-stimulated control)"], "titleLineHeight": 48, "titlePadding": 14}},
     "y2": {"field": "tip"}
    }},
   {"data": {"name": "dBr"}, "transform": [{"filter": "datum.pair == 'lower'"}],
    "mark": {"type": "rule", "strokeWidth": 4, "strokeCap": "square", "color": "black"},
    "encoding": {
     "x": {"field": "group", "type": "nominal", "sort": ["siScr", "siAMPKα"], "bandPosition": 0.69, "scale": {"paddingInner": 0.165, "paddingOuter": 0.068, "align": 0.7}, "axis": {"title": "20' Ins.:", "titleX": 3, "titleY": 67, "titleAlign": "right", "titleBaseline": "middle", "titleAngle": 0, "titleFontSize": 29, "labelAngle": 0, "ticks": false, "labelPadding": 20, "labelFontSize": 30, "labelExpr": "datum.value == 'siScr' ? '—— siScr ——' : '— siAMPKα —'"}},
     "y": {"field": "level", "type": "quantitative", "scale": {"domain": [0, 0.75, 0.75001, 2.25], "range": [469, 439, 402, 0], "nice": false, "zero": false}, "axis": {"values": [0, 0.75, 0.75001, 1, 1.25, 1.5, 1.75, 2, 2.25], "labelExpr": "format(datum.value, '.2f')", "domainDash": [30, 37, 1000], "title": ["PM GLUT4/Nuclei", "IF: α-myc/Syto60", "(fold of non-stimulated control)"], "titleLineHeight": 48, "titlePadding": 14}},
     "y2": {"field": "tip"}
    }},
   {"data": {"name": "dBr"}, "transform": [{"filter": "datum.pair == 'lower'"}],
    "mark": {"type": "text", "fontSize": 28, "baseline": "middle"},
    "encoding": {
     "x": {"field": "group", "type": "nominal", "sort": ["siScr", "siAMPKα"], "bandPosition": 0.53, "scale": {"paddingInner": 0.165, "paddingOuter": 0.068, "align": 0.7}, "axis": {"title": "20' Ins.:", "titleX": 3, "titleY": 67, "titleAlign": "right", "titleBaseline": "middle", "titleAngle": 0, "titleFontSize": 29, "labelAngle": 0, "ticks": false, "labelPadding": 20, "labelFontSize": 30, "labelExpr": "datum.value == 'siScr' ? '—— siScr ——' : '— siAMPKα —'"}},
     "y": {"field": "level", "type": "quantitative", "scale": {"domain": [0, 0.75, 0.75001, 2.25], "range": [469, 439, 402, 0], "nice": false, "zero": false}, "axis": {"values": [0, 0.75, 0.75001, 1, 1.25, 1.5, 1.75, 2, 2.25], "labelExpr": "format(datum.value, '.2f')", "domainDash": [30, 37, 1000], "title": ["PM GLUT4/Nuclei", "IF: α-myc/Syto60", "(fold of non-stimulated control)"], "titleLineHeight": 48, "titlePadding": 14}},
     "text": {"field": "label"}
    }},
   {"data": {"name": "dBr"}, "transform": [{"filter": "datum.pair == 'upper'"}],
    "mark": {"type": "rule", "strokeWidth": 4, "strokeCap": "square", "color": "black"},
    "encoding": {
     "x": {"field": "group", "type": "nominal", "sort": ["siScr", "siAMPKα"], "bandPosition": 0.323, "scale": {"paddingInner": 0.165, "paddingOuter": 0.068, "align": 0.7}, "axis": {"title": "20' Ins.:", "titleX": 3, "titleY": 67, "titleAlign": "right", "titleBaseline": "middle", "titleAngle": 0, "titleFontSize": 29, "labelAngle": 0, "ticks": false, "labelPadding": 20, "labelFontSize": 30, "labelExpr": "datum.value == 'siScr' ? '—— siScr ——' : '— siAMPKα —'"}},
     "x2": {"field": "group", "bandPosition": 0.568},
     "y": {"field": "level", "type": "quantitative", "scale": {"domain": [0, 0.75, 0.75001, 2.25], "range": [469, 439, 402, 0], "nice": false, "zero": false}, "axis": {"values": [0, 0.75, 0.75001, 1, 1.25, 1.5, 1.75, 2, 2.25], "labelExpr": "format(datum.value, '.2f')", "domainDash": [30, 37, 1000], "title": ["PM GLUT4/Nuclei", "IF: α-myc/Syto60", "(fold of non-stimulated control)"], "titleLineHeight": 48, "titlePadding": 14}}
    }},
   {"data": {"name": "dBr"}, "transform": [{"filter": "datum.pair == 'upper'"}],
    "mark": {"type": "rule", "strokeWidth": 4, "strokeCap": "square", "color": "black"},
    "encoding": {
     "x": {"field": "group", "type": "nominal", "sort": ["siScr", "siAMPKα"], "bandPosition": 0.8, "scale": {"paddingInner": 0.165, "paddingOuter": 0.068, "align": 0.7}, "axis": {"title": "20' Ins.:", "titleX": 3, "titleY": 67, "titleAlign": "right", "titleBaseline": "middle", "titleAngle": 0, "titleFontSize": 29, "labelAngle": 0, "ticks": false, "labelPadding": 20, "labelFontSize": 30, "labelExpr": "datum.value == 'siScr' ? '—— siScr ——' : '— siAMPKα —'"}},
     "x2": {"field": "group", "bandPosition": 0.86},
     "y": {"field": "level", "type": "quantitative", "scale": {"domain": [0, 0.75, 0.75001, 2.25], "range": [469, 439, 402, 0], "nice": false, "zero": false}, "axis": {"values": [0, 0.75, 0.75001, 1, 1.25, 1.5, 1.75, 2, 2.25], "labelExpr": "format(datum.value, '.2f')", "domainDash": [30, 37, 1000], "title": ["PM GLUT4/Nuclei", "IF: α-myc/Syto60", "(fold of non-stimulated control)"], "titleLineHeight": 48, "titlePadding": 14}}
    }},
   {"data": {"name": "dBr"}, "transform": [{"filter": "datum.pair == 'upper'"}],
    "mark": {"type": "rule", "strokeWidth": 4, "strokeCap": "square", "color": "black"},
    "encoding": {
     "x": {"field": "group", "type": "nominal", "sort": ["siScr", "siAMPKα"], "bandPosition": 0.323, "scale": {"paddingInner": 0.165, "paddingOuter": 0.068, "align": 0.7}, "axis": {"title": "20' Ins.:", "titleX": 3, "titleY": 67, "titleAlign": "right", "titleBaseline": "middle", "titleAngle": 0, "titleFontSize": 29, "labelAngle": 0, "ticks": false, "labelPadding": 20, "labelFontSize": 30, "labelExpr": "datum.value == 'siScr' ? '—— siScr ——' : '— siAMPKα —'"}},
     "y": {"field": "level", "type": "quantitative", "scale": {"domain": [0, 0.75, 0.75001, 2.25], "range": [469, 439, 402, 0], "nice": false, "zero": false}, "axis": {"values": [0, 0.75, 0.75001, 1, 1.25, 1.5, 1.75, 2, 2.25], "labelExpr": "format(datum.value, '.2f')", "domainDash": [30, 37, 1000], "title": ["PM GLUT4/Nuclei", "IF: α-myc/Syto60", "(fold of non-stimulated control)"], "titleLineHeight": 48, "titlePadding": 14}},
     "y2": {"field": "tip"}
    }},
   {"data": {"name": "dBr"}, "transform": [{"filter": "datum.pair == 'upper'"}],
    "mark": {"type": "rule", "strokeWidth": 4, "strokeCap": "square", "color": "black"},
    "encoding": {
     "x": {"field": "group", "type": "nominal", "sort": ["siScr", "siAMPKα"], "bandPosition": 0.86, "scale": {"paddingInner": 0.165, "paddingOuter": 0.068, "align": 0.7}, "axis": {"title": "20' Ins.:", "titleX": 3, "titleY": 67, "titleAlign": "right", "titleBaseline": "middle", "titleAngle": 0, "titleFontSize": 29, "labelAngle": 0, "ticks": false, "labelPadding": 20, "labelFontSize": 30, "labelExpr": "datum.value == 'siScr' ? '—— siScr ——' : '— siAMPKα —'"}},
     "y": {"field": "level", "type": "quantitative", "scale": {"domain": [0, 0.75, 0.75001, 2.25], "range": [469, 439, 402, 0], "nice": false, "zero": false}, "axis": {"values": [0, 0.75, 0.75001, 1, 1.25, 1.5, 1.75, 2, 2.25], "labelExpr": "format(datum.value, '.2f')", "domainDash": [30, 37, 1000], "title": ["PM GLUT4/Nuclei", "IF: α-myc/Syto60", "(fold of non-stimulated control)"], "titleLineHeight": 48, "titlePadding": 14}},
     "y2": {"field": "tip"}
    }},
   {"data": {"name": "dBr"}, "transform": [{"filter": "datum.pair == 'upper'"}],
    "mark": {"type": "text", "fontSize": 28, "baseline": "middle"},
    "encoding": {
     "x": {"field": "group", "type": "nominal", "sort": ["siScr", "siAMPKα"], "bandPosition": 0.7, "scale": {"paddingInner": 0.165, "paddingOuter": 0.068, "align": 0.7}, "axis": {"title": "20' Ins.:", "titleX": 3, "titleY": 67, "titleAlign": "right", "titleBaseline": "middle", "titleAngle": 0, "titleFontSize": 29, "labelAngle": 0, "ticks": false, "labelPadding": 20, "labelFontSize": 30, "labelExpr": "datum.value == 'siScr' ? '—— siScr ——' : '— siAMPKα —'"}},
     "y": {"field": "level", "type": "quantitative", "scale": {"domain": [0, 0.75, 0.75001, 2.25], "range": [469, 439, 402, 0], "nice": false, "zero": false}, "axis": {"values": [0, 0.75, 0.75001, 1, 1.25, 1.5, 1.75, 2, 2.25], "labelExpr": "format(datum.value, '.2f')", "domainDash": [30, 37, 1000], "title": ["PM GLUT4/Nuclei", "IF: α-myc/Syto60", "(fold of non-stimulated control)"], "titleLineHeight": 48, "titlePadding": 14}},
     "text": {"field": "label"}
    }}
  ]
 }
]
}
